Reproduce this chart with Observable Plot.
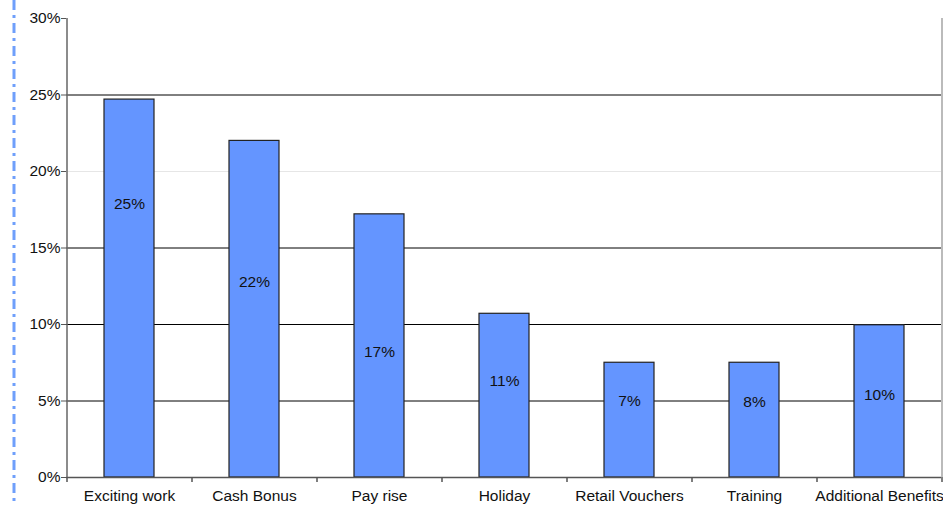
<!DOCTYPE html>
<html>
<head>
<meta charset="utf-8">
<script src="https://cdn.jsdelivr.net/npm/d3@7"></script>
<script src="https://cdn.jsdelivr.net/npm/@observablehq/plot@0.6"></script>
<style>
  html, body { margin: 0; padding: 0; background: #fff; overflow: hidden; }
  #wrap { position: relative; width: 943px; height: 509px; }
  #deco { position: absolute; left: 0; top: 0; pointer-events: none; }
</style>
</head>
<body>
<div id="wrap">
  <div id="chart"></div>
  <svg id="deco" width="943" height="509">
    <line x1="14" y1="0" x2="14" y2="505" stroke="#6f9ffb" stroke-width="3" stroke-dasharray="10,5,3,5"/>
  </svg>
</div>
<script>
const categories = ["Exciting work", "Cash Bonus", "Pay rise", "Holiday", "Retail Vouchers", "Training", "Additional Benefits"];
const values = [24.7, 22.0, 17.2, 10.7, 7.5, 7.5, 9.95];
const valueLabels = ["25%", "22%", "17%", "11%", "7%", "8%", "10%"];
const labelAt = [17.9, 12.8, 8.2, 6.3, 5.0, 4.9, 5.4];
const yTicks = [0, 5, 10, 15, 20, 25, 30];
const darkGrid = [5, 10, 15, 25];
const lightGrid = [20];

const data = categories.map((c, i) => ({cat: c, value: values[i], label: valueLabels[i], ly: labelAt[i]}));
const step = 875 / 7;

const chart = Plot.plot({
  width: 943,
  height: 509,
  marginLeft: 66,
  marginRight: 2,
  marginTop: 18,
  marginBottom: 32,
  style: {fontFamily: "'Liberation Sans', Arial, sans-serif", fontSize: "15.5px", color: "#111", background: "white", overflow: "visible"},
  x: {domain: categories, paddingInner: 0.6, paddingOuter: 0.3, axis: null},
  y: {domain: [0, 30], axis: null},
  marks: [
    Plot.ruleY(lightGrid, {stroke: "#e6e6e6", strokeWidth: 1}),
    Plot.ruleY(darkGrid, {stroke: "#000", strokeWidth: 1}),
    Plot.barY(data, {x: "cat", y: "value", fill: "#6495ff", stroke: "#222", strokeWidth: 1.2}),
    Plot.text(data, {x: "cat", y: "ly", text: "label", fill: "#111", fontSize: 15.5}),
    Plot.axisY(yTicks, {tickFormat: d => d + "%", tickSize: 5, fontSize: 15.5, stroke: "#555", fill: "#111", tickPadding: 1}),
    Plot.ruleY([0], {stroke: "#555", strokeWidth: 1.5}),
    Plot.ruleX(categories, {x: d => d, y1: 0, y2: -0.33, dx: -step / 2, stroke: "#555", strokeWidth: 1.5}),
    Plot.ruleX([categories[categories.length - 1]], {x: d => d, y1: 0, y2: -0.33, dx: step / 2, stroke: "#555", strokeWidth: 1.5}),
    Plot.ruleX([categories[0]], {x: d => d, y1: 0, y2: 30, dx: -step / 2, stroke: "#666", strokeWidth: 1.5}),
    Plot.ruleX([categories[categories.length - 1]], {x: d => d, y1: 0, y2: 30, dx: step / 2, stroke: "#bbb", strokeWidth: 2}),
    Plot.text(categories, {x: d => d, y: 0, text: d => d, dy: 19, fill: "#111", fontSize: 15.5})
  ]
});
document.getElementById("chart").appendChild(chart);
</script>
</body>
</html>
